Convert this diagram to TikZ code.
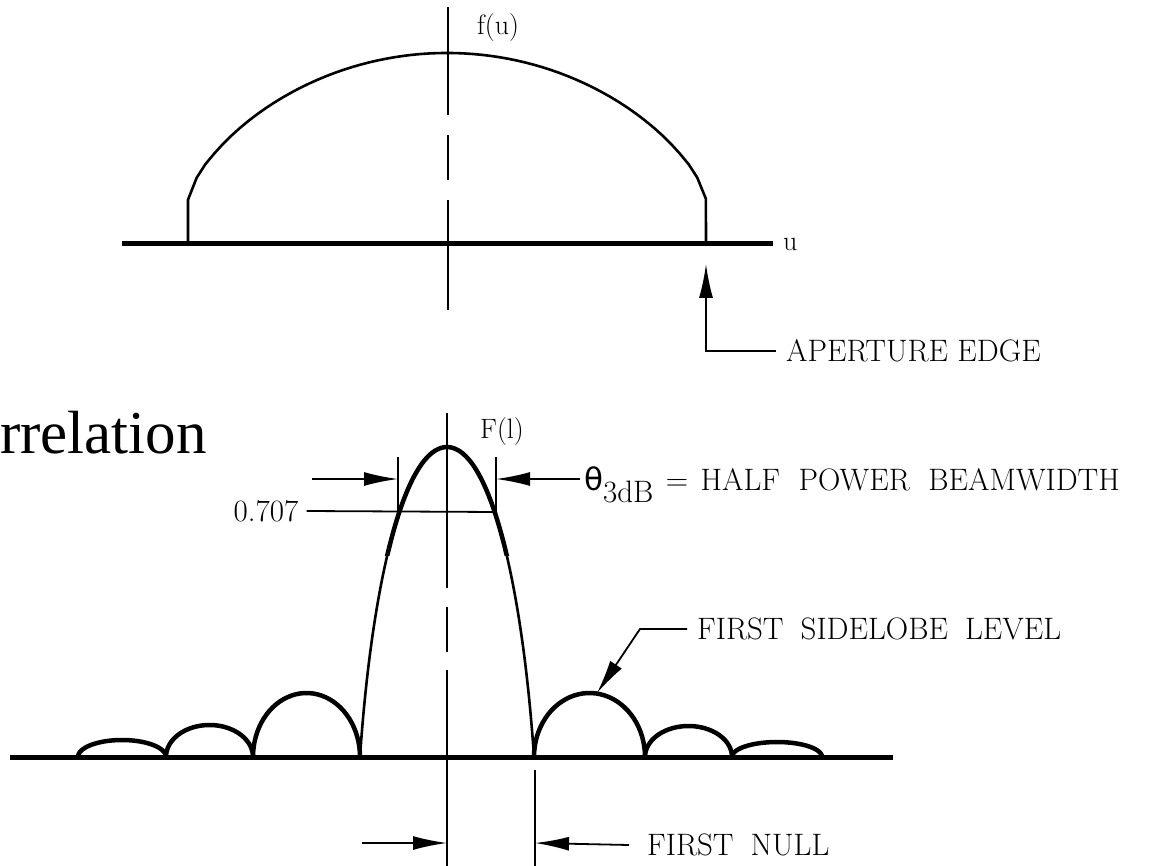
\documentclass[tikz,border=0pt]{standalone}
\usepackage{fontspec}
\newfontfamily\slidefont{Liberation Serif}
\newfontfamily\symbfont{DejaVu Sans}
\usetikzlibrary{arrows.meta,positioning,calc}

\begin{document}
\begin{tikzpicture}[
    x=1pt, y=-1pt,
    every node/.style={font=\fontsize{31}{36}\selectfont, inner sep=0pt},
    fnlabel/.style={font=\fontsize{28}{32}\selectfont},
    axisline/.style={line width=5pt},
    curve/.style={line width=2.6pt},
    lobe/.style={line width=4.5pt},
    thin/.style={line width=1.8pt},
    arr/.style={-{Latex[length=34pt,width=14pt]}, line width=1.8pt},
  ]
  \useasboundingbox (0,0) rectangle (1169,866);

  % slide title, cut at the left edge
  \node[font=\slidefont\fontsize{61}{70}\selectfont, anchor=base west] (title) at (0,453) {rrelation};

  % aperture distribution f(u)
  \coordinate (ta1) at (122,244);
  \coordinate (ta2) at (773,244);
  \draw[axisline] (ta1) -- (ta2);
  \node[fnlabel, anchor=west] (u) at (783,244) {u};
  \draw[thin, dash pattern=on 108pt off 20pt on 45pt off 20pt on 110pt] (448,7) -- (448,310);
  \node[fnlabel, anchor=west] (fu) at (477,28) {f(u)};
  \draw[curve] (188,244) -- (188,200)
    -- plot[domain=-1:1, samples=61] ({447+259*\x}, {200-147*(1-\x*\x+0.0001)^0.7})
    -- (706,244);
  \node[anchor=west] (edge) at (786,351) {APERTURE EDGE};
  \coordinate (etip) at (706,264);
  \draw[arr] ([xshift=-10pt]edge.west) -| (etip);

  % far field pattern F(l)
  \coordinate (ba1) at (10,757);
  \coordinate (ba2) at (893,757);
  \draw[axisline] (ba1) -- (ba2);
  \draw[thin, dash pattern=on 175pt off 19pt on 45pt off 18pt on 200pt] (447,413) -- (447,870);
  \node[fnlabel, anchor=west] (Fl) at (480,432) {F(l)};

  % main lobe, heavier near the top
  \draw[curve] (360,757) .. controls (372,580) and (405,447) .. (447,447)
    .. controls (489,447) and (522,580) .. (534,757);
  \begin{scope}
    \clip (300,420) rectangle (600,555);
    \draw[lobe] (360,757) .. controls (372,580) and (405,447) .. (447,447)
      .. controls (489,447) and (522,580) .. (534,757);
  \end{scope}

  % sidelobes
  \foreach \a/\b/\h in {78/166/17, 166/253/32, 253/360/64, 534/645/64, 645/732/31, 732/822/15}
    \draw[lobe] plot[domain=0:180, samples=40] ({\a+(\b-\a)*(1-cos(\x))/2}, {757-\h*sin(\x)});

  % half power beamwidth
  \node (lvl) at (266,511) {0.707};
  \coordinate (hpR) at (497,512);
  \draw[thin] ([xshift=8pt]lvl.east) -- (hpR);
  \coordinate (tkL) at (398,457);
  \coordinate (tkLb) at (398,512);
  \coordinate (tkR) at (496,457);
  \coordinate (tkRb) at (496,512);
  \draw[thin] (tkL) -- (tkLb);
  \draw[thin] (tkR) -- (tkRb);
  \coordinate (tipL) at (398,479);
  \coordinate (tipR) at (496,479);
  \coordinate (tailL) at (312,479);
  \node[anchor=base west] (bw) at (584,490)
    {{\symbfont θ}\raisebox{-12pt}{3dB}\hspace{0.4em}=\hspace{0.4em}HALF\hspace{0.6em}POWER\hspace{0.6em}BEAMWIDTH};
  \draw[arr] (tailL) -- (tipL);
  \draw[arr] ([xshift=-4pt]bw.west |- tipR) -- (tipR);

  % first sidelobe level
  \node[anchor=west] (fsl) at (697,629) {FIRST\hspace{0.55em}SIDELOBE\hspace{0.55em}LEVEL};
  \coordinate (slk) at (640,629);
  \coordinate (slpk) at (597,693);
  \draw[arr] ([xshift=-10pt]fsl.west) -- (slk) -- (slpk);

  % first null
  \coordinate (nT) at (535,770);
  \coordinate (nB) at (535,870);
  \draw[thin] (nT) -- (nB);
  \node[anchor=west] (fn) at (647,845) {FIRST\hspace{0.55em}NULL};
  \coordinate (nlTail) at (362,843);
  \coordinate (nlTip) at (447,843);
  \coordinate (nrTip) at (535,843);
  \draw[arr] (nlTail) -- (nlTip);
  \draw[arr] ([xshift=-18pt]fn.west) -- (nrTip);
\end{tikzpicture}
\end{document}
